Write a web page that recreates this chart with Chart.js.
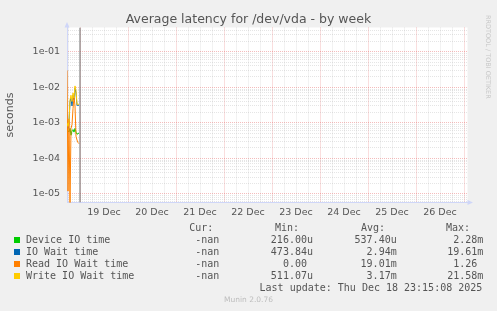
<!DOCTYPE html>
<html>
<head>
<meta charset="utf-8">
<script src="https://cdn.jsdelivr.net/npm/chart.js@4.4.0/dist/chart.umd.min.js"></script>
<style>
  body { margin: 0; background: #f0f0f0; }
  #wrap { position: relative; width: 497px; height: 311px; overflow: hidden; }
  #wrap canvas { position: absolute; left: 0; top: 0; }
  .lg { position: absolute; font: 10px "DejaVu Sans Mono", monospace; line-height: 12px; color: #555; white-space: pre; }
  .box { position: absolute; width: 6px; height: 6px; }
  #rrd { position: absolute; left: 484px; top: 15px; writing-mode: vertical-rl; font: 6.5px "DejaVu Sans", sans-serif; color: #c8c8c8; }
  #ver { position: absolute; left: 0; width: 497px; top: 295px; text-align: center; font: 7.5px "DejaVu Sans", sans-serif; color: #bdbdbd; }
</style>
</head>
<body>
<div id="wrap">
  <canvas id="latencyChart" width="497" height="311"></canvas>
  <div id="rrd">RRDTOOL / TOBI OETIKER</div>
  <div id="ver">Munin 2.0.76</div>
</div>
<script>
// Horas relativas a 19 Dec 00:00 (muestras cada 30 min)
const hours = [-6.5, -6, -5.5, -5, -4.5, -4, -3.5, -3, -2.5, -2, -1.5, -1, -0.5];
const deviceIO = [8e-4, 6e-4, 5.5e-4, 7e-4, 4.5e-4, 6e-4, 6.5e-4, 5.5e-4, 7e-4, 5.5e-4, 4.8e-4, 5e-4, 5.2e-4];
const ioWait = [9e-4, 7e-4, 1.0e-3, 4e-3, 5e-3, 3e-3, 6e-3, 4.5e-3, 9.5e-3, 7e-3, 3.1e-3, 3.2e-3, 3.1e-3];
const readWait = [3e-2, 1.2e-5, 1.3e-3, 5e-6, 7e-4, 9e-4, 2.5e-3, 5.5e-3, 3e-3, 4.2e-4, 3.3e-4, 2.8e-4, 2.6e-4];
const writeWait = [1.0e-3, 8e-4, 1.1e-3, 4.5e-3, 6e-3, 4e-3, 7e-3, 5e-3, 1.1e-2, 8e-3, 3.3e-3, 3.4e-3, 3.3e-3];
const nowHour = 0;

// Ejes
const xMin = -6.5, xMax = 193.75;
const yMin = 5.75e-6, yMax = 0.485;
const dayLabels = ['19 Dec', '20 Dec', '21 Dec', '22 Dec', '23 Dec', '24 Dec', '25 Dec', '26 Dec'];
const dayNoon = [12, 36, 60, 84, 108, 132, 156, 180];
const yDecades = [1e-5, 1e-4, 1e-3, 1e-2, 1e-1];
const yDecadeLabels = ['1e-05', '1e-04', '1e-03', '1e-02', '1e-01'];

// Leyenda
const seriesNames = ['Device IO time', 'IO Wait time', 'Read IO Wait time', 'Write IO Wait time'];
const seriesColors = ['#00cc00', '#0066b3', '#ff8000', '#ffcc00'];
const curText = ['-nan', '-nan', '-nan', '-nan'];
const minText = ['216.00u', '473.84u', '0.00 ', '511.07u'];
const avgText = ['537.40u', '2.94m', '19.01m', '3.17m'];
const maxText = ['2.28m', '19.61m', '1.26 ', '21.58m'];
const lastUpdate = 'Last update: Thu Dec 18 23:15:08 2025';

const GRID = 'rgba(150,150,150,0.25)';
const MGRID = 'rgba(225,80,80,0.38)';
const AXIS = '#cfd6f8';

const toPoints = arr => hours.map((h, i) => ({ x: h, y: arr[i] }));
const isDecade = v => Math.abs(Math.log10(v) - Math.round(Math.log10(v))) < 1e-9;

// Fondo blanco del área y flechas de los ejes
const rrdLook = {
    id: 'rrdLook',
    beforeDraw(chart) {
        const { ctx, chartArea: a } = chart;
        ctx.save();
        ctx.fillStyle = '#ffffff';
        ctx.fillRect(a.left, a.top, a.right - a.left, a.bottom - a.top);
        ctx.restore();
    },
    afterDraw(chart) {
        const { ctx, chartArea: a } = chart;
        ctx.save();
        ctx.fillStyle = AXIS;
        ctx.beginPath();
        ctx.moveTo(a.left - 2.5, a.top);
        ctx.lineTo(a.left + 2.5, a.top);
        ctx.lineTo(a.left, a.top - 5.5);
        ctx.fill();
        ctx.beginPath();
        ctx.moveTo(a.right, a.bottom - 2.5);
        ctx.lineTo(a.right, a.bottom + 2.5);
        ctx.lineTo(a.right + 5.5, a.bottom);
        ctx.fill();
        ctx.restore();
    }
};

Chart.defaults.font.family = '"DejaVu Sans", sans-serif';
Chart.defaults.color = '#555';

const series = [deviceIO, ioWait, readWait, writeWait];
const datasets = series.map((arr, i) => ({
    label: seriesNames[i],
    data: toPoints(arr),
    borderColor: seriesColors[i],
    borderWidth: 1,
    pointRadius: 0,
    tension: 0,
    fill: false,
    order: series.length - i
}));
datasets.push({
    label: 'now',
    data: [{ x: nowHour, y: yMin }, { x: nowHour, y: yMax }],
    borderColor: '#6a6a6a',
    borderWidth: 1,
    pointRadius: 0,
    order: 0
});

new Chart(document.getElementById('latencyChart').getContext('2d'), {
    type: 'line',
    data: { datasets },
    plugins: [rrdLook],
    options: {
        responsive: false,
        animation: false,
        layout: { padding: 0 },
        plugins: {
            legend: { display: false },
            tooltip: { enabled: false },
            title: {
                display: true,
                text: 'Average latency for /dev/vda - by week',
                font: { size: 12.5, weight: 'normal' },
                color: '#555',
                padding: { top: 12, bottom: 0.5 }
            }
        },
        scales: {
            x: {
                type: 'linear',
                min: xMin,
                max: xMax,
                bounds: 'data',
                afterBuildTicks: s => {
                    const t = [];
                    for (let h = -6; h <= xMax; h += 6) t.push({ value: h });
                    s.ticks = t;
                },
                afterFit: s => { s.height = 108.5; },
                grid: {
                    drawTicks: false,
                    color: c => (c.tick && c.tick.value % 24 === 0) ? MGRID : GRID
                },
                border: { color: AXIS, dash: [1, 1] },
                ticks: {
                    autoSkip: false,
                    maxRotation: 0,
                    padding: 4,
                    font: { size: 9.5 },
                    callback: v => {
                        const i = dayNoon.indexOf(v);
                        return i >= 0 ? dayLabels[i] : '';
                    }
                }
            },
            y: {
                type: 'logarithmic',
                min: yMin,
                max: yMax,
                bounds: 'data',
                afterBuildTicks: s => {
                    const t = [];
                    [1e-6].concat(yDecades).forEach(d => {
                        for (let m = 1; m <= 9; m++) {
                            const v = m * d;
                            if (v >= yMin && v <= yMax) t.push({ value: v });
                        }
                    });
                    s.ticks = t;
                },
                afterFit: s => { s.width = 67; },
                grid: {
                    drawTicks: false,
                    color: c => (c.tick && isDecade(c.tick.value)) ? MGRID : GRID
                },
                border: { color: AXIS, dash: [1, 1] },
                title: { display: true, text: 'seconds', font: { size: 11 }, color: '#555' },
                ticks: {
                    autoSkip: false,
                    padding: 7,
                    font: { size: 9.5 },
                    callback: v => {
                        const i = yDecades.findIndex(d => Math.abs(d - v) / d < 1e-6);
                        return i >= 0 ? yDecadeLabels[i] : '';
                    }
                }
            },
            // margen derecho (zona del texto RRDTOOL)
            yRight: {
                type: 'linear',
                position: 'right',
                grid: { display: false, drawOnChartArea: false },
                border: { display: false },
                ticks: { display: false },
                afterFit: s => { s.width = 29.5; }
            }
        }
    }
});

// Tabla de leyenda (texto real)
const wrap = document.getElementById('wrap');
function addText(text, x, yCenter, alignRight) {
    const el = document.createElement('div');
    el.className = 'lg';
    el.textContent = text;
    el.style.top = (yCenter - 6) + 'px';
    if (alignRight) {
        el.style.right = (497 - x) + 'px';
        el.style.textAlign = 'right';
    } else {
        el.style.left = x + 'px';
    }
    wrap.appendChild(el);
}

const headerY = 227.7;
const rowY = [239.7, 251.7, 263.7, 275.7];
addText('Cur:', 213.3, headerY, true);
addText('Min:', 299, headerY, true);
addText('Avg:', 385, headerY, true);
addText('Max:', 470, headerY, true);
seriesNames.forEach((name, i) => {
    const box = document.createElement('div');
    box.className = 'box';
    box.style.left = '14px';
    box.style.top = (rowY[i] - 3) + 'px';
    box.style.background = seriesColors[i];
    wrap.appendChild(box);
    addText(name, 26, rowY[i], false);
    addText(curText[i], 219.3, rowY[i], true);
    addText(minText[i], 313, rowY[i], true);
    addText(avgText[i], 396.7, rowY[i], true);
    addText(maxText[i], 483.3, rowY[i], true);
});
addText(lastUpdate, 482.3, 287.7, true);
</script>
</body>
</html>
